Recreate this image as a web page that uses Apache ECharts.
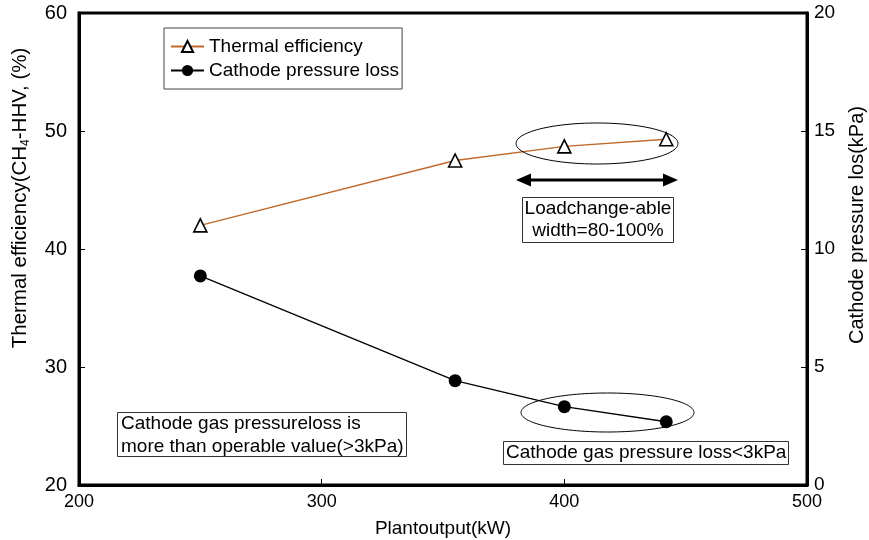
<!DOCTYPE html>
<html>
<head>
<meta charset="utf-8">
<script src="https://cdn.jsdelivr.net/npm/echarts@6/dist/echarts.min.js"></script>
<style>
  html, body { margin: 0; padding: 0; background: #fff; }
  #chart { width: 869px; height: 540px; }
</style>
</head>
<body>
<div id="chart"></div>
<script>
// Plant output (kW) at each operating point
const plantOutput = [250, 355, 400, 442];
// Thermal efficiency, CH4-HHV basis (%)
const thermalEff = [42.0, 47.5, 48.7, 49.3];
// Cathode pressure loss (kPa)
const cathodeLoss = [8.86, 4.42, 3.32, 2.68];

// Axis ranges and tick steps
const xRange = [200, 500, 100];
const effRange = [20, 60, 10];
const lossRange = [0, 20, 5];

const FONT = '"Liberation Sans", Arial, sans-serif';

function ellipsePoints(cx, cy, rx, ry, n) {
  const pts = [];
  for (let i = 0; i < n; i++) {
    const t = (i / n) * Math.PI * 2;
    pts.push([cx + rx * Math.cos(t), cy + ry * Math.sin(t)]);
  }
  return pts;
}

const chart = echarts.init(document.getElementById('chart'), null, { renderer: 'canvas' });

const axisCommon = {
  axisLine: { show: true, lineStyle: { color: '#000', width: 3 } },
  axisTick: { show: true, inside: true, length: 6, lineStyle: { color: '#000', width: 1 } },
  splitLine: { show: false }
};

const option = {
  backgroundColor: '#fff',
  animation: false,
  grid: {
    left: 79, right: 62, top: 13, bottom: 55,
    outerBoundsMode: 'none',
    containLabel: false,
    show: true, borderColor: '#000', borderWidth: 3, backgroundColor: 'transparent'
  },
  legend: {
    orient: 'vertical',
    left: 164, top: 28,
    padding: [9, 3, 9, 6],
    itemWidth: 33, itemHeight: 14, itemGap: 5,
    borderColor: '#444', borderWidth: 1,
    textStyle: { fontFamily: FONT, fontSize: 19, color: '#000' },
    data: ['Thermal efficiency', 'Cathode pressure loss']
  },
  xAxis: Object.assign({
    type: 'value',
    min: xRange[0], max: xRange[1], interval: xRange[2],
    name: 'Plantoutput(kW)',
    nameLocation: 'middle', nameGap: 34,
    nameTextStyle: { fontFamily: FONT, fontSize: 19, color: '#000' },
    axisLabel: { fontFamily: FONT, fontSize: 18, color: '#000', margin: 8 }
  }, axisCommon),
  yAxis: [
    Object.assign({
      type: 'value', position: 'left',
      min: effRange[0], max: effRange[1], interval: effRange[2],
      axisLabel: { fontFamily: FONT, fontSize: 20, color: '#000', margin: 12 }
    }, axisCommon),
    Object.assign({
      type: 'value', position: 'right',
      min: lossRange[0], max: lossRange[1], interval: lossRange[2],
      axisLabel: { fontFamily: FONT, fontSize: 19, color: '#000', margin: 7 }
    }, axisCommon)
  ],
  series: [
    {
      name: 'Thermal efficiency',
      type: 'line',
      yAxisIndex: 0,
      data: plantOutput.map((x, i) => [x, thermalEff[i]]),
      symbol: 'triangle', symbolSize: 13,
      lineStyle: { color: '#c0692b', width: 1.3 },
      itemStyle: { color: '#fff', borderColor: '#000', borderWidth: 1.6 },
      z: 3
    },
    {
      name: 'Cathode pressure loss',
      type: 'line',
      yAxisIndex: 1,
      data: plantOutput.map((x, i) => [x, cathodeLoss[i]]),
      symbol: 'circle', symbolSize: 13,
      lineStyle: { color: '#000', width: 1.3 },
      itemStyle: { color: '#000' },
      z: 3
    }
  ],
  graphic: [
    // y-axis titles
    {
      type: 'text', x: 20, y: 198, rotation: Math.PI / 2, z: 10,
      style: {
        text: '{a|Thermal efficiency(CH}{s|4}{a|-HHV, (%)}',
        align: 'center', verticalAlign: 'middle', fill: '#000',
        rich: {
          a: { fontFamily: FONT, fontSize: 20.5, lineHeight: 24, fill: '#000' },
          s: { fontFamily: FONT, fontSize: 12, lineHeight: 12, verticalAlign: 'bottom', fill: '#000' }
        }
      }
    },
    {
      type: 'text', x: 857, y: 225, rotation: Math.PI / 2, z: 10,
      style: {
        text: 'Cathode pressure los(kPa)', fontFamily: FONT, fontSize: 20,
        align: 'center', verticalAlign: 'middle', fill: '#000'
      }
    },
    // ellipse around the upper operating points
    {
      type: 'polygon', z: 5, silent: true,
      shape: { points: ellipsePoints(597, 143.5, 81, 20.5, 120) },
      style: { fill: 'none', stroke: '#000', lineWidth: 1 }
    },
    // ellipse around the low pressure-loss points
    {
      type: 'polygon', z: 5, silent: true,
      shape: { points: ellipsePoints(607.5, 412.5, 86.5, 19.5, 120) },
      style: { fill: 'none', stroke: '#000', lineWidth: 1 }
    },
    // double-headed arrow
    {
      type: 'line', z: 5, silent: true,
      shape: { x1: 528, y1: 180, x2: 666, y2: 180 },
      style: { stroke: '#000', lineWidth: 3 }
    },
    {
      type: 'polygon', z: 5, silent: true,
      shape: { points: [[516, 180], [531, 173.5], [531, 186.5]] },
      style: { fill: '#000' }
    },
    {
      type: 'polygon', z: 5, silent: true,
      shape: { points: [[678, 180], [663, 173.5], [663, 186.5]] },
      style: { fill: '#000' }
    },
    // note boxes
    {
      type: 'rect', z: 5, silent: true,
      shape: { x: 522.5, y: 197.5, width: 151, height: 45 },
      style: { fill: '#fff', stroke: '#333', lineWidth: 1 }
    },
    {
      type: 'text', x: 598, y: 220, z: 6, silent: true,
      style: {
        text: 'Loadchange-able\nwidth=80-100%', fontFamily: FONT, fontSize: 19, lineHeight: 22,
        align: 'center', verticalAlign: 'middle', fill: '#000'
      }
    },
    {
      type: 'rect', z: 5, silent: true,
      shape: { x: 117.5, y: 412.5, width: 289, height: 44 },
      style: { fill: '#fff', stroke: '#333', lineWidth: 1 }
    },
    {
      type: 'text', x: 121, y: 435, z: 6, silent: true,
      style: {
        text: 'Cathode gas pressureloss is\nmore than operable value(>3kPa)', fontFamily: FONT,
        fontSize: 19, lineHeight: 23, align: 'left', verticalAlign: 'middle', fill: '#000'
      }
    },
    {
      type: 'rect', z: 5, silent: true,
      shape: { x: 503.5, y: 441.5, width: 285, height: 23 },
      style: { fill: '#fff', stroke: '#333', lineWidth: 1 }
    },
    {
      type: 'text', x: 506, y: 453, z: 6, silent: true,
      style: {
        text: 'Cathode gas pressure loss<3kPa', fontFamily: FONT, fontSize: 19,
        align: 'left', verticalAlign: 'middle', fill: '#000'
      }
    }
  ]
};

chart.setOption(option);
</script>
</body>
</html>
